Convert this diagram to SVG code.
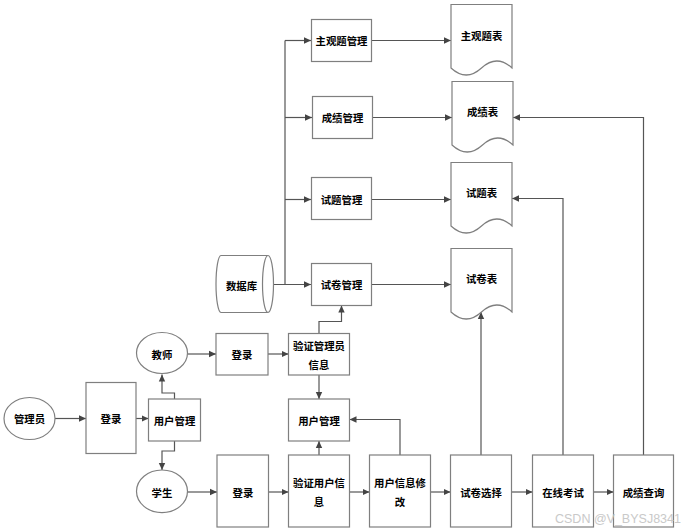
<svg xmlns="http://www.w3.org/2000/svg" width="682" height="532" viewBox="0 0 682 532">
<defs>
<style>
.s{fill:#fff;stroke:#7f7f7f;stroke-width:1.2}
.c{fill:none;stroke:#555;stroke-width:1.2}
.t{font-family:"Noto Sans CJK SC","Liberation Sans",sans-serif;font-size:10.4px;font-weight:bold;fill:#000;text-anchor:middle;dominant-baseline:central}
.w{font-family:"Liberation Sans",sans-serif;font-size:12.5px;fill:#c4c4c4;opacity:0.9}
</style>
<marker id="a" markerWidth="8" markerHeight="8" refX="7" refY="4" orient="auto" markerUnits="userSpaceOnUse">
<path d="M0,0.8 L7,4 L0,7.2 Z" fill="#444"/>
</marker>
<path id="doc" d="M0,0 H61 V63.5 Q45.75,49.5 30.5,63.5 Q15.25,77.5 0,63.5 Z"/>
</defs>
<rect width="682" height="532" fill="#fff"/>

<g id="connectors" class="c">
<path d="M285,40.5 V284.5"/>
<path d="M285,40.5 H311" marker-end="url(#a)"/>
<path d="M285,117.5 H312" marker-end="url(#a)"/>
<path d="M285,199.5 H311" marker-end="url(#a)"/>
<path d="M267,284.5 H311" marker-end="url(#a)"/>
<path d="M372,40.5 H451" marker-end="url(#a)"/>
<path d="M373,117.5 H452" marker-end="url(#a)"/>
<path d="M372,199.5 H451" marker-end="url(#a)"/>
<path d="M372,284.5 H451" marker-end="url(#a)"/>
<path d="M55,418.5 H86" marker-end="url(#a)"/>
<path d="M136,418.5 H148.5" marker-end="url(#a)"/>
<path d="M174.5,399 V393 H162 V374.5" marker-end="url(#a)"/>
<path d="M174.5,441 V451 H162 V470" marker-end="url(#a)"/>
<path d="M187.5,354 H216" marker-end="url(#a)"/>
<path d="M268,354 H288.5" marker-end="url(#a)"/>
<path d="M319,375 V399" marker-end="url(#a)"/>
<path d="M319,333.5 V321.5 H341.5 V305.5" marker-end="url(#a)"/>
<path d="M187.5,492 H217" marker-end="url(#a)"/>
<path d="M268.5,492 H288.5" marker-end="url(#a)"/>
<path d="M319,455 V441" marker-end="url(#a)"/>
<path d="M349.5,492 H369.5" marker-end="url(#a)"/>
<path d="M400,455 V419.5 H349.5" marker-end="url(#a)"/>
<path d="M430.5,492 H450.5" marker-end="url(#a)"/>
<path d="M481,455 V312" marker-end="url(#a)"/>
<path d="M511.5,492 H532.5" marker-end="url(#a)"/>
<path d="M563,455 V198.5 H512" marker-end="url(#a)"/>
<path d="M593.5,492 H613.5" marker-end="url(#a)"/>
<path d="M643.5,455 V117.5 H513" marker-end="url(#a)"/>
</g>

<g id="n-zgtgl"><rect class="s" x="311.5" y="19.5" width="60" height="42"/><text class="t" x="341.5" y="40.5">主观题管理</text></g>
<g id="n-cjgl"><rect class="s" x="312.5" y="96.5" width="60" height="42"/><text class="t" x="342.5" y="117.5">成绩管理</text></g>
<g id="n-stgl"><rect class="s" x="311.5" y="177.5" width="60" height="42"/><text class="t" x="341.5" y="199">试题管理</text></g>
<g id="n-sjgl"><rect class="s" x="311.5" y="263.5" width="60" height="42"/><text class="t" x="341.5" y="284.5">试卷管理</text></g>

<g id="n-zgtb"><use href="#doc" class="s" x="451" y="4.5"/><text class="t" x="481.5" y="35">主观题表</text></g>
<g id="n-cjb"><use href="#doc" class="s" x="452" y="81.5"/><text class="t" x="482.5" y="111.5">成绩表</text></g>
<g id="n-stb"><use href="#doc" class="s" x="451" y="162.5"/><text class="t" x="481.5" y="192.5">试题表</text></g>
<g id="n-sjb"><use href="#doc" class="s" x="451" y="248.5"/><text class="t" x="481.5" y="278.5">试卷表</text></g>

<g id="n-db">
<path class="s" d="M221,255.5 H268 A5.5,28.5 0 0 1 268,312.5 H221 A5,28.5 0 0 1 221,255.5 Z"/>
<path class="s" fill="none" d="M268,255.5 A5.5,28.5 0 0 0 268,312.5"/>
<text class="t" x="241.5" y="285.5">数据库</text>
</g>

<g id="n-admin"><ellipse class="s" cx="29.5" cy="418.5" rx="25.5" ry="21"/><text class="t" x="29.5" y="418.5">管理员</text></g>
<g id="n-login1"><rect class="s" x="86" y="382.5" width="50" height="71"/><text class="t" x="111" y="418.5">登录</text></g>
<g id="n-um1"><rect class="s" x="148.5" y="399" width="52" height="42"/><text class="t" x="174.5" y="420">用户管理</text></g>
<g id="n-teacher"><ellipse class="s" cx="162" cy="353" rx="25.5" ry="20.5"/><text class="t" x="162" y="354">教师</text></g>
<g id="n-student"><ellipse class="s" cx="162" cy="491.3" rx="25.5" ry="21.3"/><text class="t" x="162" y="492">学生</text></g>
<g id="n-login2"><rect class="s" x="216" y="333.5" width="52" height="41.5"/><text class="t" x="242" y="354">登录</text></g>
<g id="n-vadmin"><rect class="s" x="288.5" y="333.5" width="61" height="41.5"/><text class="t" x="319" y="345">验证管理员</text><text class="t" x="319" y="364">信息</text></g>
<g id="n-um2"><rect class="s" x="288.5" y="399" width="61" height="42"/><text class="t" x="319" y="420">用户管理</text></g>
<g id="n-login3"><rect class="s" x="217" y="455" width="51.5" height="72"/><text class="t" x="243" y="492">登录</text></g>
<g id="n-vuser"><rect class="s" x="288.5" y="455" width="61" height="72"/><text class="t" x="319" y="482">验证用户信</text><text class="t" x="319" y="501">息</text></g>
<g id="n-umod"><rect class="s" x="369.5" y="455" width="61" height="72"/><text class="t" x="400" y="482">用户信息修</text><text class="t" x="400" y="501">改</text></g>
<g id="n-sjxz"><rect class="s" x="450.5" y="455" width="61" height="72"/><text class="t" x="481" y="492">试卷选择</text></g>
<g id="n-zxks"><rect class="s" x="532.5" y="455" width="61" height="72"/><text class="t" x="563" y="492">在线考试</text></g>
<g id="n-cjcx"><rect class="s" x="613.5" y="455" width="60" height="72"/><text class="t" x="643.5" y="492">成绩查询</text></g>

<text class="w" x="555" y="523">CSDN @V_BYSJ8341</text>
</svg>
